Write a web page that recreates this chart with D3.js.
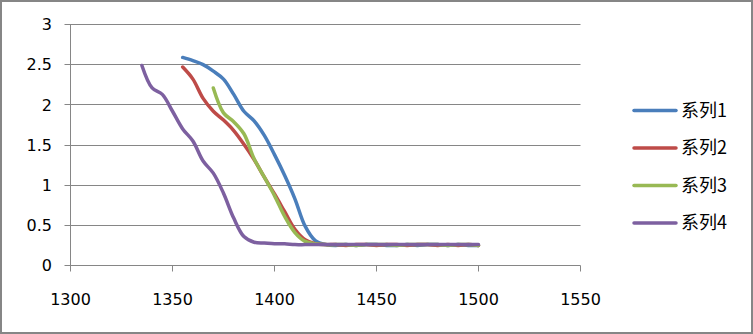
<!DOCTYPE html>
<html>
<head>
<meta charset="utf-8">
<script src="https://cdn.jsdelivr.net/npm/d3@7"></script>
<style>
    body { margin: 0; background: #fff; }
    .tick-label { font-family: "DejaVu Sans", sans-serif; font-size: 16px; fill: #000; }
    .legend-label { font-family: "Noto Sans CJK SC", sans-serif; font-size: 18px; fill: #000; }
</style>
</head>
<body>
<div id="chart"></div>
<script>

// x positions (shared)
var xValues1 = [1355, 1360, 1365, 1370, 1375, 1380, 1385, 1390, 1395, 1400, 1405, 1410, 1415, 1420, 1425,
                1430, 1435, 1440, 1445, 1450, 1455, 1460, 1465, 1470, 1475, 1480, 1485, 1490, 1495, 1500];
var series1 = [2.59, 2.55, 2.50, 2.42, 2.32, 2.13, 1.92, 1.80, 1.62, 1.38, 1.12, 0.83, 0.49, 0.31, 0.26,
               0.25, 0.26, 0.25, 0.26, 0.26, 0.25, 0.25, 0.26, 0.25, 0.26, 0.26, 0.25, 0.26, 0.25, 0.25];

var xValues2 = xValues1;
var series2 = [2.47, 2.32, 2.08, 1.92, 1.81, 1.68, 1.51, 1.32, 1.10, 0.89, 0.67, 0.45, 0.32, 0.27, 0.26,
               0.26, 0.25, 0.26, 0.26, 0.25, 0.26, 0.26, 0.25, 0.26, 0.26, 0.25, 0.26, 0.25, 0.26, 0.25];

var xValues3 = [1370, 1375, 1380, 1385, 1390, 1395, 1400, 1405, 1410, 1415, 1420, 1425,
                1430, 1435, 1440, 1445, 1450, 1455, 1460, 1465, 1470, 1475, 1480, 1485, 1490, 1495, 1500];
var series3 = [2.21, 1.90, 1.79, 1.64, 1.33, 1.10, 0.87, 0.61, 0.41, 0.30, 0.27, 0.26,
               0.26, 0.26, 0.25, 0.26, 0.26, 0.26, 0.25, 0.26, 0.26, 0.26, 0.26, 0.25, 0.26, 0.26, 0.25];

var xValues4 = [1335, 1340, 1345, 1350, 1355, 1360, 1365, 1370, 1375, 1380, 1385, 1390, 1395, 1400, 1405,
                1410, 1415, 1420, 1425, 1430, 1435, 1440, 1445, 1450, 1455, 1460, 1465, 1470, 1475, 1480,
                1485, 1490, 1495, 1500];
var series4 = [2.49, 2.21, 2.13, 1.92, 1.70, 1.55, 1.30, 1.15, 0.90, 0.59, 0.36, 0.29, 0.28, 0.27, 0.27,
               0.26, 0.26, 0.26, 0.26, 0.26, 0.26, 0.26, 0.26, 0.26, 0.26, 0.26, 0.26, 0.26, 0.26, 0.26,
               0.26, 0.26, 0.26, 0.26];

var seriesNames = ["系列1", "系列2", "系列3", "系列4"];
var seriesColors = ["#4a7ebb", "#be4b48", "#98b954", "#7d60a0"];
var xTicks = [1300, 1350, 1400, 1450, 1500, 1550];
var yTicks = [0, 0.5, 1, 1.5, 2, 2.5, 3];

var width = 753, height = 334;
var gridColor = "#868686";

var svg = d3.select("#chart").append("svg")
    .attr("width", width)
    .attr("height", height);

// outer frame
svg.append("rect")
    .attr("x", 1).attr("y", 1)
    .attr("width", width - 2).attr("height", height - 2)
    .attr("fill", "#fff")
    .attr("stroke", gridColor)
    .attr("stroke-width", 2);

var x = d3.scaleLinear().domain([1300, 1550]).range([70.5, 580.5]);
var y = d3.scaleLinear().domain([0, 3]).range([265.5, 24.5]);

//horizontal gridlines plus the little tick stubs on the left
svg.append("g")
    .selectAll("line")
    .data(yTicks)
    .enter()
    .append("line")
    .attr("x1", x(1300) - 6)
    .attr("x2", x(1550))
    .attr("y1", function(d){ return Math.round(y(d) - 0.5) + 0.5; })
    .attr("y2", function(d){ return Math.round(y(d) - 0.5) + 0.5; })
    .attr("stroke", gridColor)
    .attr("stroke-width", 1);

// vertical axis line
svg.append("line")
    .attr("x1", x(1300)).attr("x2", x(1300))
    .attr("y1", y(3)).attr("y2", y(0))
    .attr("stroke", gridColor);

// x tick marks
svg.append("g")
    .selectAll("line")
    .data(xTicks)
    .enter()
    .append("line")
    .attr("x1", function(d){ return Math.round(x(d) - 0.5) + 0.5; })
    .attr("x2", function(d){ return Math.round(x(d) - 0.5) + 0.5; })
    .attr("y1", y(0))
    .attr("y2", y(0) + 6)
    .attr("stroke", gridColor);

// tick labels
svg.append("g")
    .selectAll("text")
    .data(yTicks)
    .enter()
    .append("text")
    .attr("class", "tick-label")
    .attr("x", 52)
    .attr("y", function(d){ return y(d); })
    .attr("dy", "0.36em")
    .attr("text-anchor", "end")
    .text(function(d){ return d; });

svg.append("g")
    .selectAll("text")
    .data(xTicks)
    .enter()
    .append("text")
    .attr("class", "tick-label")
    .attr("x", function(d){ return x(d); })
    .attr("y", 299)
    .attr("dy", "0.36em")
    .attr("text-anchor", "middle")
    .text(function(d){ return d; });

// series lines (smoothed like the spreadsheet chart)
var allSeries = [
    {xs: xValues1, ys: series1},
    {xs: xValues2, ys: series2},
    {xs: xValues3, ys: series3},
    {xs: xValues4, ys: series4}
];

var line = d3.line()
    .x(function(d){ return x(d[0]); })
    .y(function(d){ return y(d[1]); })
    .curve(d3.curveCatmullRom.alpha(0.5));

svg.append("g")
    .selectAll("path")
    .data(allSeries)
    .enter()
    .append("path")
    .attr("d", function(s){ return line(d3.zip(s.xs, s.ys)); })
    .attr("fill", "none")
    .attr("stroke", function(s, i){ return seriesColors[i]; })
    .attr("stroke-width", 3.5)
    .attr("stroke-linecap", "round")
    .attr("stroke-linejoin", "round");

// legend
var legend = svg.append("g")
    .selectAll("g")
    .data(seriesNames)
    .enter()
    .append("g")
    .attr("transform", function(d, i){ return "translate(0," + (110.5 + i * 37.5) + ")"; });

legend.append("line")
    .attr("x1", 634).attr("x2", 676)
    .attr("y1", 0).attr("y2", 0)
    .attr("stroke", function(d, i){ return seriesColors[i]; })
    .attr("stroke-width", 3.5)
    .attr("stroke-linecap", "round");

legend.append("text")
    .attr("class", "legend-label")
    .attr("x", 681)
    .attr("y", 0)
    .attr("dy", "0.35em")
    .text(function(d){ return d; });

</script>
</body>
</html>
